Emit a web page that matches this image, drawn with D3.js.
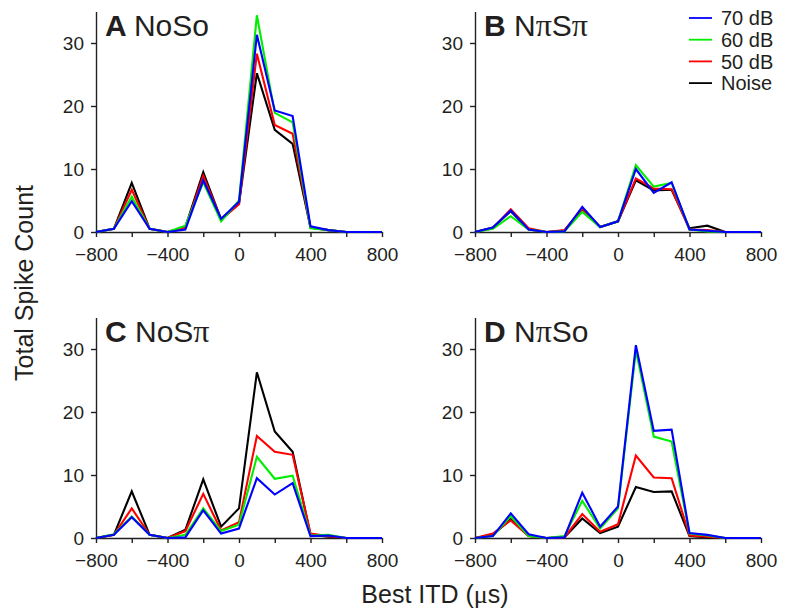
<!DOCTYPE html>
<html>
<head>
<meta charset="utf-8">
<script src="https://cdn.jsdelivr.net/npm/d3@7"></script>
<style>
  body { margin: 0; background: #fff; }
  svg { display: block; font-family: "Liberation Sans", Arial, sans-serif; }
</style>
</head>
<body>
<div id="chart"></div>
<script>
// Best ITD bins (µs)
const itd = [-800, -700, -600, -500, -400, -300, -200, -100, 0, 100, 200, 300, 400, 500, 600, 700, 800];

const seriesNames = ["Noise", "50 dB", "60 dB", "70 dB"];
const seriesColors = ["#000000", "#ff0000", "#00ee00", "#0000ff"];
const legendOrder = ["70 dB", "60 dB", "50 dB", "Noise"];

const xTicks = [-800, -600, -400, -200, 0, 200, 400, 600, 800];
const xTickLabels = [-800, -400, 0, 400, 800];
const yTicks = [0, 10, 20, 30];

// A NoSo
const noSoNoise = [0, 0.5, 7.8, 0.5, 0, 0.8, 9.5, 2.0, 4.5, 25.2, 16.2, 14.0, 0.7, 0.3, 0, 0, 0];
const noSo50 = [0, 0.5, 6.7, 0.5, 0, 0.7, 8.9, 2.0, 4.4, 28.3, 17.0, 15.6, 0.7, 0.3, 0, 0, 0];
const noSo60 = [0, 0.5, 5.6, 0.5, 0, 1.0, 7.9, 1.7, 5.0, 34.4, 18.9, 17.4, 0.6, 0.3, 0, 0, 0];
const noSo70 = [0, 0.5, 4.9, 0.5, 0, 0.4, 8.2, 2.1, 4.8, 31.3, 19.3, 18.4, 0.9, 0.3, 0, 0, 0];

// B NπSπ
const npSpNoise = [0, 0.7, 3.3, 0.4, 0, 0.2, 3.6, 0.8, 1.7, 8.2, 6.6, 6.7, 0.6, 1.0, 0, 0, 0];
const npSp50 = [0, 0.6, 3.6, 0.6, 0, 0.3, 3.7, 0.8, 1.7, 8.5, 6.9, 6.8, 0.4, 0.3, 0, 0, 0];
const npSp60 = [0, 0.5, 2.5, 0.4, 0, 0.1, 3.2, 0.8, 1.7, 10.6, 7.2, 7.8, 0.4, 0.1, 0, 0, 0];
const npSp70 = [0, 0.7, 3.4, 0.4, 0, 0.1, 4.0, 0.8, 1.7, 10.0, 6.2, 7.9, 0.4, 0.2, 0, 0, 0];

// C NoSπ
const noSpNoise = [0, 0.5, 7.4, 0.5, 0, 1.3, 9.3, 1.8, 4.7, 26.3, 16.9, 13.7, 0.5, 0.2, 0, 0, 0];
const noSp50 = [0, 0.5, 4.7, 0.5, 0, 1.1, 7.0, 1.2, 2.5, 16.2, 13.7, 13.2, 0.7, 0.3, 0, 0, 0];
const noSp60 = [0, 0.6, 3.4, 0.5, 0, 0.5, 4.7, 1.1, 2.1, 12.9, 9.4, 9.9, 0.4, 0.5, 0, 0, 0];
const noSp70 = [0, 0.5, 3.3, 0.5, 0, 0.1, 4.4, 0.7, 1.5, 9.5, 6.9, 8.7, 0.3, 0.4, 0, 0, 0];

// D NπSo
const npSoNoise = [0, 0.5, 3.0, 0.3, 0, 0.1, 3.1, 0.8, 1.8, 8.1, 7.3, 7.4, 0.3, 0.1, 0, 0, 0];
const npSo50 = [0, 0.7, 2.8, 0.3, 0, 0.1, 3.8, 1.0, 2.2, 13.1, 9.6, 9.5, 0.4, 0.2, 0, 0, 0];
const npSo60 = [0, 0.3, 3.5, 0.3, 0, 0.3, 5.9, 1.5, 4.7, 29.8, 16.1, 15.3, 0.7, 0.4, 0, 0, 0];
const npSo70 = [0, 0.3, 3.9, 0.6, 0, 0.1, 7.2, 1.8, 5.0, 30.6, 17.0, 17.2, 0.8, 0.5, 0, 0, 0];

const panels = [
  { letter: "A", name: "NoSo", series: [noSoNoise, noSo50, noSo60, noSo70], col: 0, row: 0 },
  { letter: "B", name: "NπSπ", series: [npSpNoise, npSp50, npSp60, npSp70], col: 1, row: 0 },
  { letter: "C", name: "NoSπ", series: [noSpNoise, noSp50, noSp60, noSp70], col: 0, row: 1 },
  { letter: "D", name: "NπSo", series: [npSoNoise, npSo50, npSo60, npSo70], col: 1, row: 1 }
];

const width = 785, height = 611;
const colX = [96, 475];       // left edge of each panel column
const rowY = [232, 538];      // baseline (y = 0) of each panel row
const plotW = 286;
const plotH = 220.5;          // 0..35 counts

const svg = d3.select("#chart")
  .append("svg")
  .attr("width", width)
  .attr("height", height)
  .attr("viewBox", [0, 0, width, height]);

const axisColor = "#231f20";
const symbolFont = "Liberation Serif, Times New Roman, serif";

panels.forEach(p => {
  const x0 = colX[p.col];
  const y0 = rowY[p.row];

  const x = d3.scaleLinear()
    .domain([-800, 800])
    .range([x0, x0 + plotW]);

  const y = d3.scaleLinear()
    .domain([0, 35])
    .range([y0, y0 - plotH]);

  const g = svg.append("g");

  // x axis
  const gx = g.append("g")
    .attr("transform", `translate(0,${y0})`)
    .call(d3.axisBottom(x)
      .tickValues(xTicks)
      .tickSize(5)
      .tickSizeOuter(0)
      .tickPadding(11)
      .tickFormat(d => xTickLabels.includes(d) ? d3.format("d")(d).replace("-", "−") : ""));

  // y axis
  const gy = g.append("g")
    .attr("transform", `translate(${x0},0)`)
    .call(d3.axisLeft(y)
      .tickValues(yTicks)
      .tickSize(5)
      .tickSizeOuter(0)
      .tickPadding(7));

  [gx, gy].forEach(a => {
    a.select(".domain").attr("stroke", axisColor).attr("stroke-width", 1.4);
    a.selectAll(".tick line").attr("stroke", axisColor).attr("stroke-width", 1.4);
    a.selectAll(".tick text")
      .attr("fill", axisColor)
      .style("font-size", "19px")
      .style("font-family", "Liberation Sans, Arial, sans-serif");
  });
  gx.selectAll(".tick text").attr("dy", "0.71em");
  gy.selectAll(".tick text").attr("dy", "0.36em");

  // lines: Noise first, 70 dB on top
  const line = d3.line()
    .x((d, i) => x(itd[i]))
    .y(d => y(d));

  p.series.forEach((vals, i) => {
    g.append("path")
      .datum(vals)
      .attr("fill", "none")
      .attr("stroke", seriesColors[i])
      .attr("stroke-width", 2.1)
      .attr("stroke-linejoin", "miter")
      .attr("d", line);
  });

  // panel title, π set in a serif face like the symbol font of the original
  const title = g.append("text")
    .attr("x", x0 + 9)
    .attr("y", y0 - plotH + 24.5)
    .attr("fill", axisColor)
    .style("font-size", "30px");
  title.append("tspan")
    .attr("font-weight", "bold")
    .text(p.letter + " ");
  p.name.split(/(π)/).filter(s => s).forEach(part => {
    const t = title.append("tspan").text(part);
    if (part === "π") t.style("font-family", symbolFont).style("font-size", "32px");
  });
});

// legend
const legend = svg.append("g")
  .attr("transform", "translate(689, 18)");

legendOrder.forEach((name, i) => {
  const idx = seriesNames.indexOf(name);
  const row = legend.append("g")
    .attr("transform", `translate(0, ${i * 21.7})`);

  row.append("line")
    .attr("x1", 0)
    .attr("x2", 23)
    .attr("stroke", seriesColors[idx])
    .attr("stroke-width", 1.8);

  row.append("text")
    .attr("x", 32)
    .attr("dy", "0.36em")
    .attr("fill", axisColor)
    .style("font-size", "20px")
    .text(name);
});

// axis titles
svg.append("text")
  .attr("transform", "translate(33, 283) rotate(-90)")
  .attr("text-anchor", "middle")
  .attr("fill", axisColor)
  .style("font-size", "25px")
  .text("Total Spike Count");

const xTitle = svg.append("text")
  .attr("x", 435)
  .attr("y", 603)
  .attr("text-anchor", "middle")
  .attr("fill", axisColor)
  .style("font-size", "25px");
xTitle.append("tspan").text("Best ITD (");
xTitle.append("tspan").style("font-family", symbolFont).style("font-size", "26px").text("μ");
xTitle.append("tspan").text("s)");
</script>
</body>
</html>
